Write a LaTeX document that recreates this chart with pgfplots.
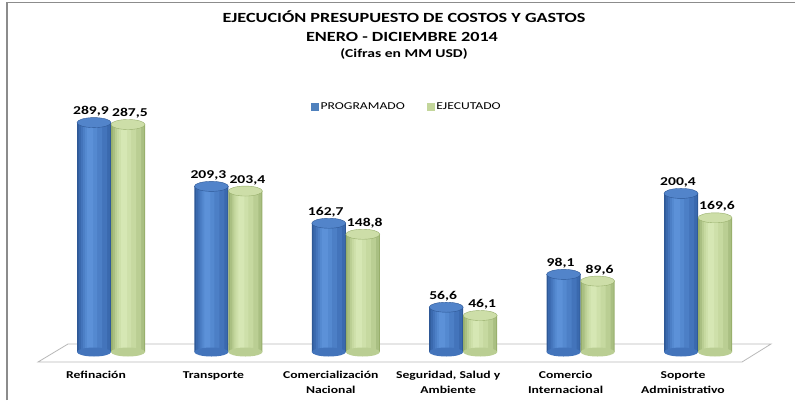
\documentclass[border=0pt]{standalone}
\usepackage{fontspec}
\setmainfont{Carlito}[FakeStretch=1.3]
\usepackage{pgfplots}
\pgfplotsset{compat=1.18}
\usepackage{pgfplotstable}

\definecolor{b0}{HTML}{2E5896}
\definecolor{b1}{HTML}{3A69AE}
\definecolor{b2}{HTML}{4374BB}
\definecolor{b3}{HTML}{4C7FC6}
\definecolor{b4}{HTML}{5489D0}
\definecolor{b5}{HTML}{5C91D8}
\definecolor{bT}{HTML}{5284CA}
\definecolor{bLeg}{HTML}{4F81BD}
\definecolor{g0}{HTML}{97AE6B}
\definecolor{g1}{HTML}{A9BF82}
\definecolor{g2}{HTML}{BACE93}
\definecolor{g3}{HTML}{C6D9A0}
\definecolor{g4}{HTML}{CEE0AA}
\definecolor{g5}{HTML}{D6E7B4}
\definecolor{gT}{HTML}{CDDEA8}
\definecolor{gLeg}{HTML}{C3D69B}
\definecolor{frame}{HTML}{8C8C8C}

\pgfplotstableread{
x prog progl ejec ejecl
0 289.9 289,9 287.5 287,5
1 209.3 209,3 203.4 203,4
2 162.7 162,7 148.8 148,8
3 56.6 56,6 46.1 46,1
4 98.1 98,1 89.6 89,6
5 200.4 200,4 169.6 169,6
}\data

\pgfdeclareplotmark{cyltop}{\pgfpathellipse{\pgfpointorigin}{\pgfpoint{17pt}{0pt}}{\pgfpoint{0pt}{5pt}}\pgfusepathqfillstroke}
\pgfdeclareplotmark{cylbot}{\pgfpathellipse{\pgfpointorigin}{\pgfpoint{17pt}{0pt}}{\pgfpoint{0pt}{4.5pt}}\pgfusepathqfill}

% #1 column, #2..#7 shifts for layers 0..5, #8 colour prefix
\newcommand\cylbody[8]{%
\addplot[ybar, bar width=34pt, bar shift=#2pt, fill=#80, draw=none, forget plot] table[x=x, y=#1] {\data};
\addplot[ybar, bar width=31.5pt, bar shift=#3pt, fill=#81, draw=none, forget plot] table[x=x, y=#1] {\data};
\addplot[ybar, bar width=26pt, bar shift=#4pt, fill=#82, draw=none, forget plot] table[x=x, y=#1] {\data};
\addplot[ybar, bar width=19pt, bar shift=#5pt, fill=#83, draw=none, forget plot] table[x=x, y=#1] {\data};
\addplot[ybar, bar width=12pt, bar shift=#6pt, fill=#84, draw=none, forget plot] table[x=x, y=#1] {\data};
\addplot[ybar, bar width=6pt, bar shift=#7pt, fill=#85, draw=none, forget plot] table[x=x, y=#1] {\data};
}

\begin{document}
\begin{tikzpicture}
\useasboundingbox (0,0) rectangle (795pt,400pt);
% frame
\draw[frame, line width=1.5pt] (6.75pt,0pt) -- (6.75pt,397.25pt) -- (795pt,397.25pt);
% titles
\node[font=\bfseries\fontsize{14}{16}\selectfont] at (404pt,383pt) {EJECUCIÓN PRESUPUESTO DE COSTOS Y GASTOS};
\node[font=\bfseries\fontsize{14}{16}\selectfont] at (402pt,363pt) {ENERO - DICIEMBRE 2014};
\node[font=\bfseries\fontsize{12}{14}\selectfont] at (404pt,346pt) {(Cifras en MM USD)};
% floor
\draw[color=gray!55, fill=white, line width=0.8pt] (38pt,38pt) -- (742pt,38pt) -- (771pt,56pt) -- (68pt,56pt) -- cycle;

\begin{axis}[
  at={(52.3pt,48pt)}, anchor=south west,
  scale only axis, width=704.4pt, height=273pt,
  xmin=-0.5, xmax=5.5, ymin=0, ymax=345,
  axis x line*=bottom, axis y line=none,
  axis line style={draw=none},
  xtick={0,...,5}, major tick length=0pt,
  xticklabels={Refinación,Transporte,{Comercialización\\Nacional},{Seguridad, Salud y\\Ambiente},{Comercio\\Internacional},{Soporte\\Administrativo}},
  xticklabel style={font=\bfseries\fontsize{10.5}{15}\selectfont, align=center, yshift=-16pt, xshift=-15pt},
  clip=false,
  legend columns=2,
  legend style={at={(0.5035,0.897)}, anchor=center, draw=none, fill=none,
    font=\fontsize{10.5}{12}\selectfont,
    /tikz/every even column/.append style={column sep=20pt}},
  legend cell align=left,
]
\addlegendimage{legend image code/.code={\fill[bLeg] (0pt,-3.5pt) rectangle (7pt,3.5pt);}}
\addlegendentry{PROGRAMADO}
\addlegendimage{legend image code/.code={\fill[gLeg] (0pt,-3.5pt) rectangle (7pt,3.5pt);}}
\addlegendentry{EJECUTADO}
% PROGRAMADO
\addplot[only marks, mark=cylbot, mark options={fill=b2, draw=none}, forget plot]
  table[x expr=\thisrow{x}-0.1448, y expr=0] {\data};
\cylbody{prog}{-17}{-16.75}{-17}{-18.5}{-20}{-21}{b}
\addplot[only marks, mark=cyltop, mark options={fill=bT, draw=b0, line width=0.4pt}, forget plot,
  point meta=explicit symbolic,
  nodes near coords, nodes near coords style={anchor=south, yshift=5pt, xshift=-3pt, inner sep=1pt, font=\bfseries\fontsize{12}{14}\selectfont, text=black}]
  table[x expr=\thisrow{x}-0.1448, y=prog, meta=progl] {\data};
% EJECUTADO
\addplot[only marks, mark=cylbot, mark options={fill=g2, draw=none}, forget plot]
  table[x expr=\thisrow{x}+0.1448, y expr=0] {\data};
\cylbody{ejec}{17}{17.25}{17}{15.5}{14}{13}{g}
\addplot[only marks, mark=cyltop, mark options={fill=gT, draw=g0, line width=0.4pt}, forget plot,
  point meta=explicit symbolic,
  nodes near coords, nodes near coords style={anchor=south, yshift=5pt, xshift=2pt, inner sep=1pt, font=\bfseries\fontsize{12}{14}\selectfont, text=black}]
  table[x expr=\thisrow{x}+0.1448, y=ejec, meta=ejecl] {\data};
\end{axis}
\end{tikzpicture}
\end{document}
